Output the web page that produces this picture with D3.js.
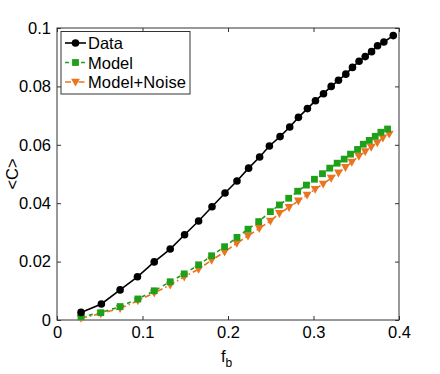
<!DOCTYPE html>
<html>
<head>
<meta charset="utf-8">
<script src="https://cdn.jsdelivr.net/npm/d3@7"></script>
<style>
  body { margin: 0; background: #fff; }
  text { font-family: "Liberation Sans", Arial, sans-serif; }
</style>
</head>
<body>
<svg id="chart" width="440" height="374"></svg>
<script>
// Data
const dataX = [0.0281, 0.0519, 0.0738, 0.0941, 0.1137, 0.1324, 0.1492, 0.1656, 0.1813, 0.1965,
  0.2105, 0.2241, 0.2370, 0.2484, 0.2609, 0.2722, 0.2824, 0.2929, 0.3023, 0.3117,
  0.3207, 0.3292, 0.3378, 0.3456, 0.3533, 0.3605, 0.3679, 0.3749, 0.3823, 0.3933];
const dataY = [0.0026, 0.0055, 0.0103, 0.0148, 0.0199, 0.0243, 0.0292, 0.0339, 0.0388, 0.0435,
  0.0476, 0.0520, 0.0558, 0.0596, 0.0628, 0.0661, 0.0694, 0.0724, 0.0751, 0.0775,
  0.0800, 0.0821, 0.0842, 0.0865, 0.0886, 0.0902, 0.0919, 0.0939, 0.0952, 0.0974];

const modelX = [0.0281, 0.0512, 0.0738, 0.0946, 0.1137, 0.1324, 0.1488, 0.1656, 0.1808, 0.1960,
  0.2105, 0.2234, 0.2359, 0.2496, 0.2601, 0.2710, 0.2815, 0.2917, 0.3011, 0.3105,
  0.3190, 0.3277, 0.3359, 0.3433, 0.3515, 0.3582, 0.3652, 0.3722, 0.3788, 0.3866];
const modelY = [0.0011, 0.0025, 0.0046, 0.0072, 0.0100, 0.0131, 0.0158, 0.0189, 0.0220, 0.0251,
  0.0283, 0.0311, 0.0337, 0.0371, 0.0394, 0.0417, 0.0441, 0.0462, 0.0482, 0.0501,
  0.0520, 0.0537, 0.0551, 0.0568, 0.0584, 0.0602, 0.0615, 0.0629, 0.0643, 0.0654];

const noiseX = [0.0281, 0.0512, 0.0738, 0.0946, 0.1137, 0.1324, 0.1488, 0.1656, 0.1808, 0.1960,
  0.2103, 0.2234, 0.2366, 0.2496, 0.2601, 0.2714, 0.2823, 0.2925, 0.3019, 0.3113,
  0.3207, 0.3292, 0.3374, 0.3448, 0.3530, 0.3605, 0.3675, 0.3746, 0.3811, 0.3886];
const noiseY = [0.0006, 0.0022, 0.0040, 0.0066, 0.0093, 0.0120, 0.0148, 0.0174, 0.0205, 0.0233,
  0.0263, 0.0288, 0.0314, 0.0339, 0.0365, 0.0386, 0.0408, 0.0428, 0.0448, 0.0466,
  0.0486, 0.0504, 0.0523, 0.0541, 0.0561, 0.0577, 0.0592, 0.0607, 0.0624, 0.0637];

const xTicks = [0, 0.1, 0.2, 0.3, 0.4];
const yTicks = [0, 0.02, 0.04, 0.06, 0.08, 0.1];
const seriesNames = ["Data", "Model", "Model+Noise"];

// Layout
const margin = { left: 57, right: 41, top: 28, bottom: 54 };
const width = 440, height = 374;
const svg = d3.select("#chart");

const x = d3.scaleLinear().domain([0, 0.4]).range([margin.left, width - margin.right]);
const y = d3.scaleLinear().domain([0, 0.1]).range([height - margin.bottom, margin.top]);

const fmt = d => d === 0 ? "0" : d3.format("~g")(d);
const tickLen = 4;

// Axes (ticks drawn inward, matlab style)
svg.append("g")
  .attr("transform", `translate(0,${y(0)})`)
  .call(d3.axisBottom(x).tickValues(xTicks).tickFormat(fmt).tickSizeInner(-tickLen).tickSizeOuter(0).tickPadding(6))
  .call(g => g.select(".domain").remove());
svg.append("g")
  .attr("transform", `translate(${x(0)},0)`)
  .call(d3.axisLeft(y).tickValues(yTicks).tickFormat(fmt).tickSizeInner(-tickLen).tickSizeOuter(0).tickPadding(6))
  .call(g => g.select(".domain").remove());
svg.append("g")
  .attr("transform", `translate(0,${y(0.1)})`)
  .call(d3.axisTop(x).tickValues(xTicks).tickFormat("").tickSizeInner(-tickLen).tickSizeOuter(0))
  .call(g => g.select(".domain").remove());
svg.append("g")
  .attr("transform", `translate(${x(0.4)},0)`)
  .call(d3.axisRight(y).tickValues(yTicks).tickFormat("").tickSizeInner(-tickLen).tickSizeOuter(0))
  .call(g => g.select(".domain").remove());

svg.selectAll(".tick text").attr("font-size", 16.5).attr("fill", "#000");
svg.selectAll(".tick line").attr("stroke", "#333");

// Frame
svg.append("rect")
  .attr("x", x(0)).attr("y", y(0.1))
  .attr("width", x(0.4) - x(0)).attr("height", y(0) - y(0.1))
  .attr("fill", "none").attr("stroke", "#333").attr("stroke-width", 1);

// Series
const series = [
  { name: seriesNames[0], xs: dataX, ys: dataY, color: "#000000", dash: null, marker: "circle" },
  { name: seriesNames[1], xs: modelX, ys: modelY, color: "#1fa01a", dash: "4,4", marker: "square" },
  { name: seriesNames[2], xs: noiseX, ys: noiseY, color: "#ea7420", dash: "6,3,1.5,3", marker: "triangle" }
];

const line = d3.line().x(d => x(d[0])).y(d => y(d[1]));

function drawMarker(sel, marker, color) {
  if (marker === "circle") {
    sel.append("circle").attr("r", 3.8).attr("fill", color);
  } else if (marker === "square") {
    sel.append("rect").attr("x", -3.4).attr("y", -3.4).attr("width", 6.8).attr("height", 6.8).attr("fill", color);
  } else {
    sel.append("path").attr("d", "M-4.4,-3.3L4.4,-3.3L0,4.6Z").attr("fill", color);
  }
}

series.slice().reverse().forEach(s => {
  const pts = s.xs.map((v, i) => [v, s.ys[i]]);
  svg.append("path")
    .datum(pts)
    .attr("d", line)
    .attr("fill", "none")
    .attr("stroke", s.color)
    .attr("stroke-width", 1.6)
    .attr("stroke-dasharray", s.dash);
  svg.append("g").selectAll("g")
    .data(pts)
    .join("g")
    .attr("transform", d => `translate(${x(d[0])},${y(d[1])})`)
    .each(function () { drawMarker(d3.select(this), s.marker, s.color); });
});

// Legend
const legend = svg.append("g").attr("transform", "translate(61,31.5)");
legend.append("rect")
  .attr("width", 129).attr("height", 62.5)
  .attr("fill", "#fff").attr("stroke", "#333").attr("stroke-width", 1);
series.forEach((s, i) => {
  const ly = 11.5 + i * 19.5;
  const row = legend.append("g").attr("transform", `translate(0,${ly})`);
  row.append("line")
    .attr("x1", 4).attr("x2", 25).attr("y1", 0).attr("y2", 0)
    .attr("stroke", s.color).attr("stroke-width", 1.6)
    .attr("stroke-dasharray", s.dash);
  const m = row.append("g").attr("transform", "translate(14.5,0)");
  drawMarker(m, s.marker, s.color);
  row.append("text")
    .attr("x", 27).attr("y", 6)
    .attr("font-size", 16.5)
    .attr("textLength", i === 2 ? 98 : null)
    .text(s.name);
});

// Axis labels
svg.append("text")
  .attr("transform", `translate(18,${(y(0) + y(0.1)) / 2}) rotate(-90)`)
  .attr("text-anchor", "middle")
  .attr("font-size", 16.5)
  .text("<C>");
const xl = svg.append("text")
  .attr("x", 221)
  .attr("y", 362)
  .attr("font-size", 16.5);
xl.append("tspan").text("f");
xl.append("tspan").attr("font-size", 12).attr("dy", 5).text("b");
</script>
</body>
</html>
